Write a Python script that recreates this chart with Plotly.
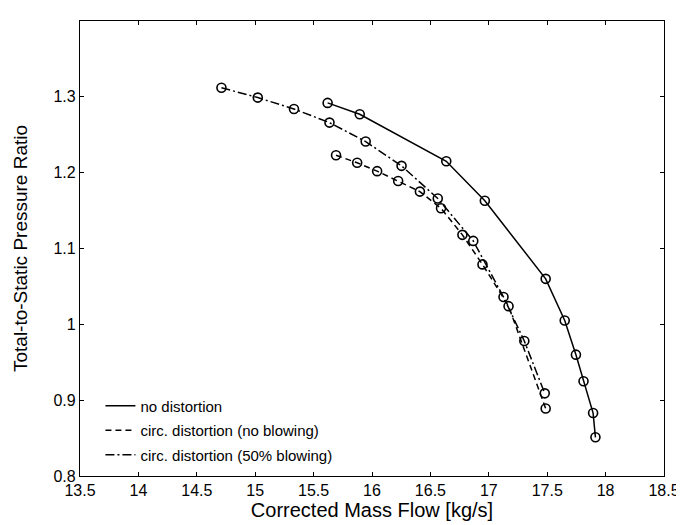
import plotly.graph_objects as go

# Data
flow_no_dist = [15.62, 15.895, 16.636, 16.966, 17.487, 17.65, 17.746, 17.811, 17.893, 17.913]
pr_no_dist = [1.292, 1.277, 1.215, 1.163, 1.060, 1.005, 0.960, 0.925, 0.883, 0.851]

flow_no_blow = [15.692, 15.873, 16.044, 16.224, 16.41, 16.591, 16.774, 16.946, 17.169, 17.487]
pr_no_blow = [1.223, 1.213, 1.202, 1.189, 1.175, 1.153, 1.118, 1.079, 1.024, 0.889]

flow_blow50 = [14.711, 15.022, 15.332, 15.636, 15.946, 16.253, 16.563, 16.867, 17.126, 17.304, 17.479]
pr_blow50 = [1.312, 1.299, 1.284, 1.266, 1.241, 1.209, 1.166, 1.110, 1.036, 0.978, 0.909]

series_names = ["no distortion", "circ. distortion (no blowing)", "circ. distortion (50% blowing)"]
x_ticks = [13.5, 14, 14.5, 15, 15.5, 16, 16.5, 17, 17.5, 18, 18.5]
x_tick_labels = ["13.5", "14", "14.5", "15", "15.5", "16", "16.5", "17", "17.5", "18", "18.5"]
y_ticks = [0.8, 0.9, 1.0, 1.1, 1.2, 1.3]
y_tick_labels = ["0.8", "0.9", "1", "1.1", "1.2", "1.3"]

FONT = "Liberation Sans, Arial, Helvetica, sans-serif"
dashes = ["solid", "6px,4px", "9px,3px,2px,3px"]
series = [(flow_no_dist, pr_no_dist), (flow_no_blow, pr_no_blow), (flow_blow50, pr_blow50)]

fig = go.Figure()
for i, ((xs, ys), name, dash) in enumerate(zip(series, series_names, dashes)):
    fig.add_trace(go.Scatter(
        x=xs, y=ys, mode="lines", name=name, legendgroup=f"g{i}",
        line=dict(color="black", width=1.5, dash=dash),
    ))
for i, (xs, ys) in enumerate(series):
    fig.add_trace(go.Scatter(
        x=xs, y=ys, mode="markers", showlegend=False, legendgroup=f"g{i}",
        marker=dict(symbol="circle-open", size=9, color="black", line=dict(width=1.6, color="black")),
    ))

axis_common = dict(
    showgrid=False, zeroline=False, showline=True, linecolor="black", linewidth=1.2,
    mirror="allticks", ticks="inside", ticklen=4, tickcolor="black", tickwidth=1,
    tickfont=dict(family=FONT, size=16, color="black"),
)

fig.update_layout(
    width=684, height=525,
    margin=dict(l=70, r=23, t=12, b=57),
    paper_bgcolor="white", plot_bgcolor="white",
    font=dict(family=FONT, color="black"),
    xaxis=dict(range=[13.5, 18.5], tickvals=x_ticks, ticktext=x_tick_labels,
               title=dict(text="Corrected Mass Flow [kg/s]", font=dict(family=FONT, size=20), standoff=0),
               **axis_common),
    yaxis=dict(range=[0.8, 1.4], tickvals=y_ticks, ticktext=y_tick_labels,
               title=dict(text="Total-to-Static Pressure Ratio", font=dict(family=FONT, size=19), standoff=20),
               **axis_common),
    legend=dict(x=0.035, y=0.19, xanchor="left", yanchor="top",
                bgcolor="rgba(0,0,0,0)", borderwidth=0,
                font=dict(family=FONT, size=15, color="black"),
                traceorder="grouped", tracegroupgap=2, itemwidth=30),
    showlegend=True,
)

fig.write_html("out.html")
